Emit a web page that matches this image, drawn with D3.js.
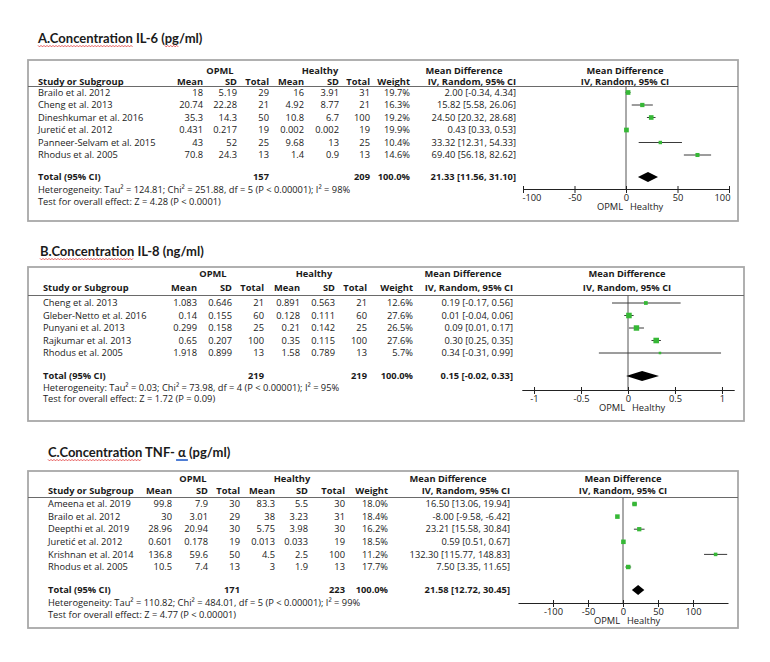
<!DOCTYPE html>
<html>
<head>
<meta charset="utf-8">
<script src="https://cdn.jsdelivr.net/npm/d3@7"></script>
<style>
  body { margin: 0; background: #fff; }
</style>
</head>
<body>
<svg id="chart" width="770" height="662"></svg>
<script>
'use strict';

// ---------- A. IL-6 (pg/ml) ----------
const il6Study = ["Brailo et al. 2012", "Cheng et al. 2013", "Dineshkumar et al. 2016", "Juretić et al. 2012", "Panneer-Selvam et al. 2015", "Rhodus et al. 2005"];
const il6OpmlMean = [18, 20.74, 35.3, 0.431, 43, 70.8];
const il6OpmlSD = [5.19, 22.28, 14.3, 0.217, 52, 24.3];
const il6OpmlN = [29, 21, 50, 19, 25, 13];
const il6HealthyMean = [16, 4.92, 10.8, 0.002, 9.68, 1.4];
const il6HealthySD = [3.91, 8.77, 6.7, 0.002, 13, 0.9];
const il6HealthyN = [31, 21, 100, 19, 25, 13];
const il6Weight = [19.7, 16.3, 19.2, 19.9, 10.4, 14.6];
const il6MD = [2.00, 15.82, 24.50, 0.43, 33.32, 69.40];
const il6Lo = [-0.34, 5.58, 20.32, 0.33, 12.31, 56.18];
const il6Hi = [4.34, 26.06, 28.68, 0.53, 54.33, 82.62];
const il6Totals = [157, 209];
const il6Pooled = [21.33, 11.56, 31.10];
const il6Het = "Heterogeneity: Tau² = 124.81; Chi² = 251.88, df = 5 (P < 0.00001); I² = 98%";
const il6Test = "Test for overall effect: Z = 4.28 (P < 0.0001)";
const il6Ticks = [-100, -50, 0, 50, 100];

// ---------- B. IL-8 (ng/ml) ----------
const il8Study = ["Cheng et al. 2013", "Gleber-Netto et al. 2016", "Punyani et al. 2013", "Rajkumar et al. 2013", "Rhodus et al. 2005"];
const il8OpmlMean = [1.083, 0.14, 0.299, 0.65, 1.918];
const il8OpmlSD = [0.646, 0.155, 0.158, 0.207, 0.899];
const il8OpmlN = [21, 60, 25, 100, 13];
const il8HealthyMean = [0.891, 0.128, 0.21, 0.35, 1.58];
const il8HealthySD = [0.563, 0.111, 0.142, 0.115, 0.789];
const il8HealthyN = [21, 60, 25, 100, 13];
const il8Weight = [12.6, 27.6, 26.5, 27.6, 5.7];
const il8MD = [0.19, 0.01, 0.09, 0.30, 0.34];
const il8Lo = [-0.17, -0.04, 0.01, 0.25, -0.31];
const il8Hi = [0.56, 0.06, 0.17, 0.35, 0.99];
const il8Totals = [219, 219];
const il8Pooled = [0.15, -0.02, 0.33];
const il8Het = "Heterogeneity: Tau² = 0.03; Chi² = 73.98, df = 4 (P < 0.00001); I² = 95%";
const il8Test = "Test for overall effect: Z = 1.72 (P = 0.09)";
const il8Ticks = [-1, -0.5, 0, 0.5, 1];

// ---------- C. TNF-alpha (pg/ml) ----------
const tnfStudy = ["Ameena et al. 2019", "Brailo et al. 2012", "Deepthi et al. 2019", "Juretić et al. 2012", "Krishnan et al. 2014", "Rhodus et al. 2005"];
const tnfOpmlMean = [99.8, 30, 28.96, 0.601, 136.8, 10.5];
const tnfOpmlSD = [7.9, 3.01, 20.94, 0.178, 59.6, 7.4];
const tnfOpmlN = [30, 29, 30, 19, 50, 13];
const tnfHealthyMean = [83.3, 38, 5.75, 0.013, 4.5, 3];
const tnfHealthySD = [5.5, 3.23, 3.98, 0.033, 2.5, 1.9];
const tnfHealthyN = [30, 31, 30, 19, 100, 13];
const tnfWeight = [18.0, 18.4, 16.2, 18.5, 11.2, 17.7];
const tnfMD = [16.50, -8.00, 23.21, 0.59, 132.30, 7.50];
const tnfLo = [13.06, -9.58, 15.58, 0.51, 115.77, 3.35];
const tnfHi = [19.94, -6.42, 30.84, 0.67, 148.83, 11.65];
const tnfTotals = [171, 223];
const tnfPooled = [21.58, 12.72, 30.45];
const tnfHet = "Heterogeneity: Tau² = 110.82; Chi² = 484.01, df = 5 (P < 0.00001); I² = 99%";
const tnfTest = "Test for overall effect: Z = 4.77 (P < 0.00001)";
const tnfTicks = [-100, -50, 0, 50, 100];

const FONT = "'Open Sans', sans-serif";
const FS = 9.3;
const GREEN = "#36b836";

const svg = d3.select("#chart");
svg.append("rect").attr("width", 770).attr("height", 662).attr("fill", "#fff");

// red/blue spell-check marks under the title words
function squiggle(g, x0, x1, y, color) {
    const pts = [];
    for (let x = x0, k = 0; x <= x1; x += 1.5, k++) pts.push([x, y + (k % 2 ? 0.9 : -0.6)]);
    g.append("path").attr("d", d3.line()(pts))
        .attr("fill", "none").attr("stroke", color).attr("stroke-width", 0.8);
}

function drawPanel(d, L) {
    const g = svg.append("g");

    // title
    const title = g.append("text")
        .attr("x", L.titleX).attr("y", L.titleY)
        .attr("font-family", "Lato, sans-serif").attr("font-weight", 700)
        .attr("font-size", 13).attr("fill", "#1a1a1a")
        .text(d.title);
    const tn = title.node();
    const sub = (i, n) => [L.titleX + tn.getSubStringLength(0, i), L.titleX + tn.getSubStringLength(0, i + n)];
    let r = sub(0, 15);
    squiggle(g, r[0], r[1], L.titleY + 3, "#e03030");
    for (let m of d.marks) {
        let i = d.title.indexOf(m.s);
        r = sub(i, m.s.length);
        if (m.wavy) squiggle(g, r[0], r[1], L.titleY + 3, m.color);
        else g.append("line").attr("x1", r[0] - 2).attr("x2", r[1] + 2)
            .attr("y1", L.titleY + 3).attr("y2", L.titleY + 3)
            .attr("stroke", m.color).attr("stroke-width", 1.8);
    }

    // frame
    g.append("rect")
        .attr("x", L.left).attr("y", L.top)
        .attr("width", L.right - L.left).attr("height", L.bottom - L.top)
        .attr("fill", "none").attr("stroke", "#a8a8a8").attr("stroke-width", 1.8);
    g.append("line")
        .attr("x1", L.left).attr("x2", L.right)
        .attr("y1", L.hdrLine).attr("y2", L.hdrLine)
        .attr("stroke", "#6a6a6a").attr("stroke-width", 1);

    const txt = (x, y, s, anchor, bold) => g.append("text")
        .attr("x", x).attr("y", y).attr("dy", "0.35em")
        .attr("text-anchor", anchor || "start")
        .attr("font-family", FONT).attr("font-size", FS)
        .attr("font-weight", bold ? 700 : 400)
        .attr("fill", "#1a1a1a").text(s);

    const c = L.colX;
    // headers
    txt(L.opmlX, L.hdr1Y, "OPML", "middle", true);
    txt(L.healthyX, L.hdr1Y, "Healthy", "middle", true);
    txt(L.mdHdrX, L.hdr1Y, "Mean Difference", "middle", true);
    txt(L.plotHdrX, L.hdr1Y, "Mean Difference", "middle", true);
    txt(L.studyX, L.hdr2Y, "Study or Subgroup", "start", true);
    ["Mean", "SD", "Total", "Mean", "SD", "Total", "Weight", "IV, Random, 95% CI"]
        .forEach((h, i) => txt(c[i], L.hdr2Y, h, "end", true));
    txt(L.plotHdrX, L.hdr2Y, "IV, Random, 95% CI", "middle", true);

    // rows
    const y = d3.scalePoint().domain(d.study).range([L.rowFirst, L.rowLast]);
    d.study.forEach((s, i) => {
        const yy = y(s);
        txt(L.studyX, yy, s);
        [d.m1[i], d.s1[i], d.n1[i], d.m2[i], d.s2[i], d.n2[i]]
            .forEach((v, j) => txt(c[j], yy, String(v), "end"));
        txt(c[6], yy, d.w[i].toFixed(1) + "%", "end");
        txt(c[7], yy, `${d.md[i].toFixed(2)} [${d.lo[i].toFixed(2)}, ${d.hi[i].toFixed(2)}]`, "end");
    });

    // totals
    txt(L.studyX, L.totalY, "Total (95% CI)", "start", true);
    txt(c[2], L.totalY, String(d.totals[0]), "end", true);
    txt(c[5], L.totalY, String(d.totals[1]), "end", true);
    txt(c[6], L.totalY, "100.0%", "end", true);
    const p = d.pooled;
    txt(c[7], L.totalY, `${p[0].toFixed(2)} [${p[1].toFixed(2)}, ${p[2].toFixed(2)}]`, "end", true);
    txt(L.studyX, L.hetY, d.het);
    txt(L.studyX, L.testY, d.test);

    // forest plot
    const x = d3.scaleLinear().domain(L.xDomain).range(L.xRange);
    const size = d3.scaleSqrt().domain([0, 30]).range([0, 5.8]);

    g.append("line")
        .attr("x1", x(0)).attr("x2", x(0))
        .attr("y1", L.hdrLine).attr("y2", L.axisY)
        .attr("stroke", "#555").attr("stroke-width", 1);

    const rows = g.append("g").selectAll("g").data(d.study).join("g");
    rows.append("line")
        .attr("x1", (s, i) => x(d.lo[i])).attr("x2", (s, i) => x(d.hi[i]))
        .attr("y1", s => y(s)).attr("y2", s => y(s))
        .attr("stroke", "#3a3a3a").attr("stroke-width", 1);
    rows.append("rect")
        .attr("x", (s, i) => x(d.md[i]) - size(d.w[i]) / 2)
        .attr("y", (s, i) => y(s) - size(d.w[i]) / 2)
        .attr("width", (s, i) => size(d.w[i]))
        .attr("height", (s, i) => size(d.w[i]))
        .attr("fill", GREEN);

    // pooled diamond
    g.append("path")
        .attr("d", d3.line()([[x(p[1]), L.totalY], [x(p[0]), L.totalY - 5],
            [x(p[2]), L.totalY], [x(p[0]), L.totalY + 5]]) + "Z")
        .attr("fill", "#000");

    // axis
    const ax = g.append("g")
        .attr("transform", `translate(0,${L.axisY})`)
        .call(d3.axisBottom(x).tickValues(d.ticks).tickFormat(v => String(v))
            .tickSize(4).tickSizeOuter(0));
    ax.select(".domain").attr("stroke", "#222");
    ax.selectAll(".tick line").attr("y1", -3).attr("y2", 4).attr("stroke", "#222");
    ax.selectAll(".tick text")
        .attr("y", 5).attr("font-family", FONT).attr("font-size", FS).attr("fill", "#1a1a1a")
        .attr("text-anchor", v => v === L.xDomain[0] ? "start" : v === L.xDomain[1] ? "end" : "middle")
        .attr("dx", v => v === L.xDomain[0] ? -1 : v === L.xDomain[1] ? 1 : 0);

    txt(x(0) - 3, L.axisY + 18, "OPML", "end");
    txt(x(0) + 4, L.axisY + 18, "Healthy", "start");
}

drawPanel({
    title: "A.Concentration IL-6 (pg/ml)",
    marks: [{s: "pg", color: "#e03030", wavy: true}],
    study: il6Study, m1: il6OpmlMean, s1: il6OpmlSD, n1: il6OpmlN,
    m2: il6HealthyMean, s2: il6HealthySD, n2: il6HealthyN,
    w: il6Weight, md: il6MD, lo: il6Lo, hi: il6Hi,
    totals: il6Totals, pooled: il6Pooled, het: il6Het, test: il6Test, ticks: il6Ticks
}, {
    titleX: 38, titleY: 43, top: 60, bottom: 221, left: 28, right: 738,
    hdr1Y: 71, hdr2Y: 81.5, hdrLine: 86.5, rowFirst: 92.5, rowLast: 155,
    totalY: 177, hetY: 190, testY: 202,
    studyX: 38, colX: [203, 237, 269, 304, 339, 370, 410, 516],
    opmlX: 220, healthyX: 320, mdHdrX: 464, plotHdrX: 625,
    xDomain: [-100, 100], xRange: [523, 729], axisY: 189
});

drawPanel({
    title: "B.Concentration IL-8 (ng/ml)",
    marks: [],
    study: il8Study, m1: il8OpmlMean, s1: il8OpmlSD, n1: il8OpmlN,
    m2: il8HealthyMean, s2: il8HealthySD, n2: il8HealthyN,
    w: il8Weight, md: il8MD, lo: il8Lo, hi: il8Hi,
    totals: il8Totals, pooled: il8Pooled, het: il8Het, test: il8Test, ticks: il8Ticks
}, {
    titleX: 40, titleY: 256, top: 267, bottom: 421, left: 28, right: 744,
    hdr1Y: 273.5, hdr2Y: 288, hdrLine: 295.5, rowFirst: 303, rowLast: 353,
    totalY: 376, hetY: 387.5, testY: 398.5,
    studyX: 43, colX: [197, 232, 264, 300, 335, 367, 413, 513],
    opmlX: 213, healthyX: 314, mdHdrX: 463, plotHdrX: 627,
    xDomain: [-1.13, 1.13], xRange: [521.8, 734.2], axisY: 390
});

drawPanel({
    title: "C.Concentration TNF- α (pg/ml)",
    marks: [{s: "α", color: "#3b6fd0", wavy: false}],
    study: tnfStudy, m1: tnfOpmlMean, s1: tnfOpmlSD, n1: tnfOpmlN,
    m2: tnfHealthyMean, s2: tnfHealthySD, n2: tnfHealthyN,
    w: tnfWeight, md: tnfMD, lo: tnfLo, hi: tnfHi,
    totals: tnfTotals, pooled: tnfPooled, het: tnfHet, test: tnfTest, ticks: tnfTicks
}, {
    titleX: 48, titleY: 457, top: 471, bottom: 628, left: 28, right: 738,
    hdr1Y: 479, hdr2Y: 491, hdrLine: 497.5, rowFirst: 504, rowLast: 567,
    totalY: 590, hetY: 603, testY: 614.5,
    studyX: 48, colX: [172, 208, 240, 275, 308, 345, 388, 510],
    opmlX: 193, healthyX: 292, mdHdrX: 448, plotHdrX: 623,
    xDomain: [-150, 150], xRange: [518, 728], axisY: 603
});
</script>
</body>
</html>
